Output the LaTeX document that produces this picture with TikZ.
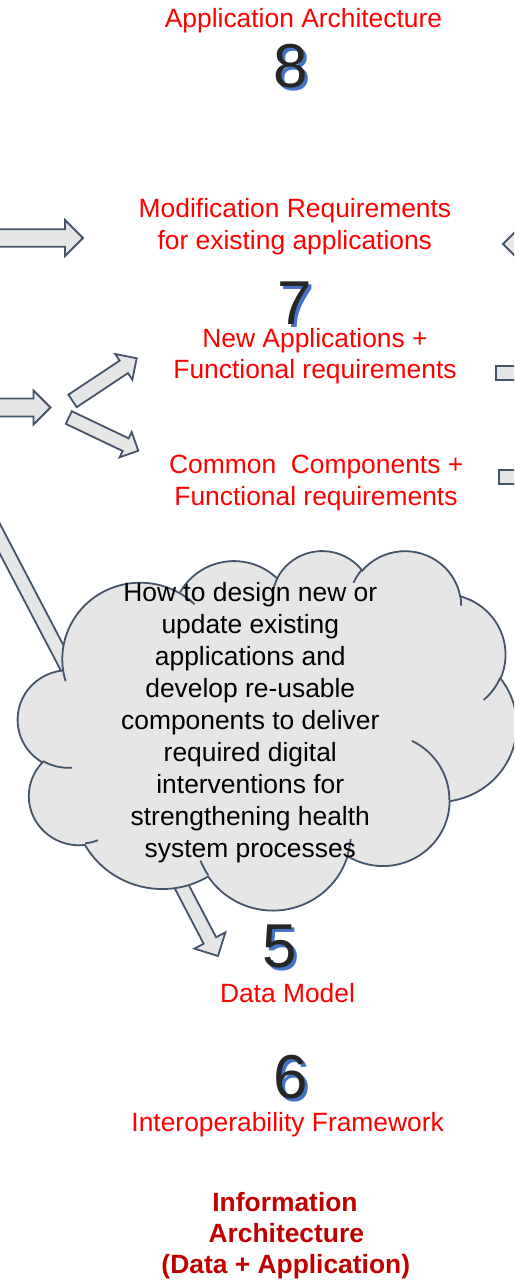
\documentclass[tikz,border=0pt]{standalone}
\usepackage{fontspec}
\setmainfont{Liberation Sans}
\definecolor{lblred}{RGB}{255,0,0}
\definecolor{titlered}{RGB}{192,0,0}
\definecolor{edgecol}{RGB}{68,84,106}
\definecolor{blockfill}{RGB}{231,230,230}
\definecolor{shadowblue}{RGB}{68,114,196}
\definecolor{digitblack}{RGB}{38,38,38}
% tip x, tip y, angle (screen, clockwise), length, shaft width, head width
\newcommand{\blkarrow}[6]{%
  \begin{scope}[shift={(#1,#2)},rotate=#3]
    \path[blockarrow] (0,0) -- (-#6/2,#6/2) -- (-#6/2,#5/2) -- (-#4,#5/2)
      -- (-#4,-#5/2) -- (-#6/2,-#5/2) -- (-#6/2,-#6/2) -- cycle;
  \end{scope}}
% step number with blue offset shadow
\newcommand{\stepnum}[1]{\makebox[0pt][l]{\hspace{3pt}\raisebox{-3pt}{\textcolor{shadowblue}{#1}}}\textcolor{digitblack}{#1}}
\begin{document}
\begin{tikzpicture}[x=1pt,y=1pt,yscale=-1,
  blockarrow/.style={draw=edgecol,fill=blockfill,line width=1.8pt,line join=miter},
  cloudshape/.style={draw=edgecol,fill=blockfill,line width=1.8pt},
  cloudline/.style={draw=edgecol,line width=1.8pt},
  lbl/.style={text=lblred,font=\fontsize{26.4}{32}\selectfont,anchor=base,inner sep=0pt},
  ttl/.style={text=titlered,font=\fontsize{26.4}{32}\selectfont\bfseries,anchor=base,inner sep=0pt},
  cloudtext/.style={text=black,font=\fontsize{26.4}{32}\selectfont,align=center,inner sep=0pt},
  digit/.style={font=\fontsize{62}{62}\selectfont,anchor=base,inner sep=0pt}]
\clip (0,0) rectangle (514,1282);
\useasboundingbox (0,0) rectangle (514,1282);

% block arrows
\blkarrow{83}{238}{0}{130}{17.5}{36}
\blkarrow{50.5}{407.5}{0}{100}{18}{34}
\blkarrow{136.7}{358.3}{-33.6}{77}{15}{31}
\blkarrow{138.3}{450.7}{25.5}{77}{14}{28}
\blkarrow{218}{956}{62.4}{560}{14}{35}
\blkarrow{503}{244}{180}{80}{17}{36}
\blkarrow{576}{373}{0}{80}{14}{36}
\blkarrow{579}{477}{0}{80}{14}{36}

% cloud
\begin{scope}[shift={(18,549.9)},xscale=1.154,yscale=0.8318]
\path[cloudshape] (39.00,143.70)
  arc[start angle=-187.747, end angle=-59.636, x radius=67.53, y radius=91.90]
  arc[start angle=-152.020, end angle=-45.453, x radius=53.33, y radius=72.67]
  arc[start angle=-153.487, end angle=-37.309, x radius=43.65, y radius=59.45]
  arc[start angle=-139.699, end angle=-10.213, x radius=48.57, y radius=65.95]
  arc[start angle=-74.769, end angle=23.211, x radius=53.33, y radius=72.73]
  arc[start angle=-37.533, end angle=81.862, x radius=67.75, y radius=92.20]
  arc[start angle=0.4596, end angle=121.979, x radius=57.85, y radius=78.67]
  arc[start angle=16.845, end angle=146.246, x radius=67.52, y radius=92.15]
  arc[start angle=58.986, end angle=150.200, x radius=77.20, y radius=105.43]
  arc[start angle=-276.694, end angle=-136.868, x radius=43.60, y radius=59.18]
  arc[start angle=-239.646, end angle=-95.888, x radius=43.45, y radius=59.45]
  -- cycle;
\path[cloudline] (46.93,261.77) arc[start angle=85.546, end angle=120.354, x radius=43.45, y radius=59.45];
\path[cloudline] (69.28,348.99) arc[start angle=68.237, end angle=83.306, x radius=43.60, y radius=59.18];
\path[cloudline] (164.78,390.90) arc[start angle=146.246, end angle=158.474, x radius=67.52, y radius=92.15];
\path[cloudline] (288.27,347.51) arc[start angle=4.738, end angle=16.845, x radius=67.52, y radius=92.15];
\path[cloudline] (341.29,229.54) arc[start angle=-64.022, end angle=0.4596, x radius=57.85, y radius=78.67];
\path[cloudline] (417.98,153.54) arc[start angle=23.211, end angle=49.637, x radius=53.33, y radius=72.73];
\path[cloudline] (383.24,54.26) arc[start angle=-10.213, end angle=0.8209, x radius=48.57, y radius=65.95];
\path[cloudline] (290.78,39.52) arc[start angle=-156.288, end angle=-139.699, x radius=48.57, y radius=65.95];
\path[cloudline] (221.41,47.20) arc[start angle=-167.726, end angle=-153.487, x radius=43.65, y radius=59.45];
\path[cloudline] (140.00,51.92) arc[start angle=-59.636, end angle=-45.748, x radius=67.53, y radius=91.90];
\path[cloudline] (41.27,157.89) arc[start angle=163.194, end angle=172.253, x radius=67.53, y radius=91.90];
\end{scope}

\node[cloudtext] (question) at (250.3,723) {How to design new or\\update existing\\applications and\\develop re-usable\\components to deliver\\required digital\\interventions for\\strengthening health\\system processes};

% labels
\node[lbl] (appA) at (303.5,27.3) {Application Architecture};
\node[lbl] (modA) at (295,217.5) {Modification Requirements};
\node[lbl] (modB) at (294.8,249) {for existing applications};
\node[lbl] (newA) at (315,347) {New Applications +};
\node[lbl] (newB) at (315,378.8) {Functional requirements};
\node[lbl] (comA) at (316.2,473.2) {Common\ \ Components +};
\node[lbl] (comB) at (316,505.3) {Functional requirements};
\node[lbl] (dataM) at (287.5,1002.7) {Data Model};
\node[lbl] (interop) at (287.7,1131.7) {Interoperability Framework};
\node[ttl] (infoA) at (285,1211) {Information};
\node[ttl] (infoB) at (286.3,1242.7) {Architecture};
\node[ttl] (infoC) at (285.8,1273.3) {(Data + Application)};

% step numbers
\node[digit] (n8) at (291,87.3) {\stepnum{8}};
\node[digit] (n7) at (295,324) {\stepnum{7}};
\node[digit] (n5) at (280,967.3) {\stepnum{5}};
\node[digit] (n6) at (291,1098) {\stepnum{6}};
\end{tikzpicture}
\end{document}
